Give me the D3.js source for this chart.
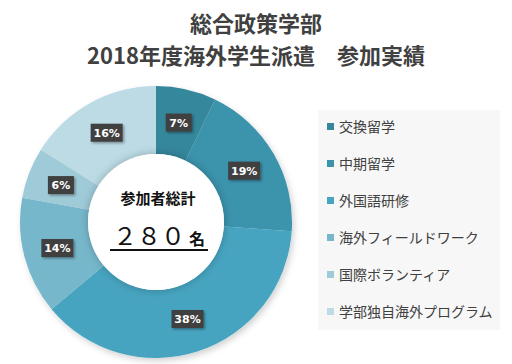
<!DOCTYPE html>
<html><head><meta charset="utf-8">
<script src="https://cdn.jsdelivr.net/npm/d3@7"></script>
<style>
body{margin:0;background:#fff;}
svg{display:block;font-family:"Noto Sans CJK JP","Noto Sans",sans-serif;}
</style></head>
<body><svg id="c" width="512" height="364"></svg>
<script>
const titleLines = ["総合政策学部", "2018年度海外学生派遣　参加実績"];
const categories = ["交換留学","中期留学","外国語研修","海外フィールドワーク","国際ボランティア","学部独自海外プログラム"];
const values = [20, 53, 106, 39, 17, 45];
const labels = ["7%","19%","38%","14%","6%","16%"];
const colors = ["#35879c","#3b93ac","#46a4c0","#77b7cb","#9fcad8","#bcdbe5"];
const centerTitle = "参加者総計";
const totalText = "２８０";
const unitText = "名";

const svg = d3.select("#c");
const defs = svg.append("defs");
const f = defs.append("filter").attr("id","sh").attr("x","-20%").attr("y","-20%").attr("width","140%").attr("height","140%");
f.append("feDropShadow").attr("dx",2).attr("dy",3).attr("stdDeviation",3).attr("flood-color","#000").attr("flood-opacity",0.18);
const f2 = defs.append("filter").attr("id","lsh").attr("x","-30%").attr("y","-30%").attr("width","160%").attr("height","160%");
f2.append("feDropShadow").attr("dx",1.5).attr("dy",1.5).attr("stdDeviation",1).attr("flood-color","#000").attr("flood-opacity",0.35);
const f3 = defs.append("filter").attr("id","ish").attr("x","-30%").attr("y","-30%").attr("width","160%").attr("height","160%");
f3.append("feDropShadow").attr("dx",0).attr("dy",0).attr("stdDeviation",4).attr("flood-color","#000").attr("flood-opacity",0.25);

// title
svg.append("g").selectAll("text").data(titleLines).join("text")
  .attr("x",256).attr("y",(d,i)=>32+i*32)
  .attr("text-anchor","middle").attr("font-size",22).attr("font-weight","bold")
  .attr("fill","#404040").text(d=>d);

const cx = 156, cy = 222, rOuter = 136, rInner = 68;
const g = svg.append("g").attr("transform",`translate(${cx},${cy})`);
const pie = d3.pie().sort(null).value(d=>d);
const arcs = pie(values);
const arc = d3.arc().innerRadius(rInner).outerRadius(rOuter);
g.append("g").attr("filter","url(#sh)").selectAll("path").data(arcs).join("path")
  .attr("d",arc).attr("fill",(d,i)=>colors[i]);
// inner white circle with glow
g.append("circle").attr("r",rInner).attr("fill","#fff").attr("filter","url(#ish)");
g.append("circle").attr("r",rInner-1).attr("fill","#fff");

// labels
const lg = g.append("g").selectAll("g").data(arcs).join("g")
  .attr("transform",d=>{const c=arc.centroid(d);return `translate(${c[0]},${c[1]})`;});
lg.append("rect").attr("x",(d,i)=>labels[i].length>2?-16:-13).attr("y",-9)
  .attr("width",(d,i)=>labels[i].length>2?32:26).attr("height",18)
  .attr("fill","#3f3f3f").attr("filter","url(#lsh)");
lg.append("text").attr("text-anchor","middle").attr("dy","0.36em")
  .attr("font-size",11).attr("font-weight","bold").attr("fill","#fff")
  .attr("font-family","'DejaVu Sans',sans-serif")
  .text((d,i)=>labels[i]);

// center text
g.append("text").attr("x",2).attr("y",-18).attr("text-anchor","middle")
  .attr("font-size",15).attr("font-weight","bold").attr("fill","#111").text(centerTitle);
const tt = g.append("text").attr("x",-43).attr("y",23).attr("fill","#111");
tt.append("tspan").attr("font-size",24).text(totalText);
tt.append("tspan").attr("font-size",16).attr("font-weight","bold").attr("dx",4).text(unitText);
g.append("line").attr("x1",-46).attr("x2",52).attr("y1",28).attr("y2",28)
  .attr("stroke","#111").attr("stroke-width",2);

// legend
const lgx = 318, lgy = 110;
svg.append("rect").attr("x",lgx).attr("y",lgy).attr("width",182).attr("height",220).attr("fill","#f7f7f7");
const yLeg = d3.scalePoint().domain(categories).range([127,312]);
const li = svg.append("g").selectAll("g").data(categories).join("g")
  .attr("transform",d=>`translate(327,${yLeg(d)})`);
li.append("rect").attr("x",0).attr("y",-4).attr("width",7).attr("height",7).attr("fill",(d,i)=>colors[i]);
li.append("text").attr("x",12).attr("dy","0.36em").attr("font-size",14).attr("fill","#404040").text(d=>d);
</script></body></html>
